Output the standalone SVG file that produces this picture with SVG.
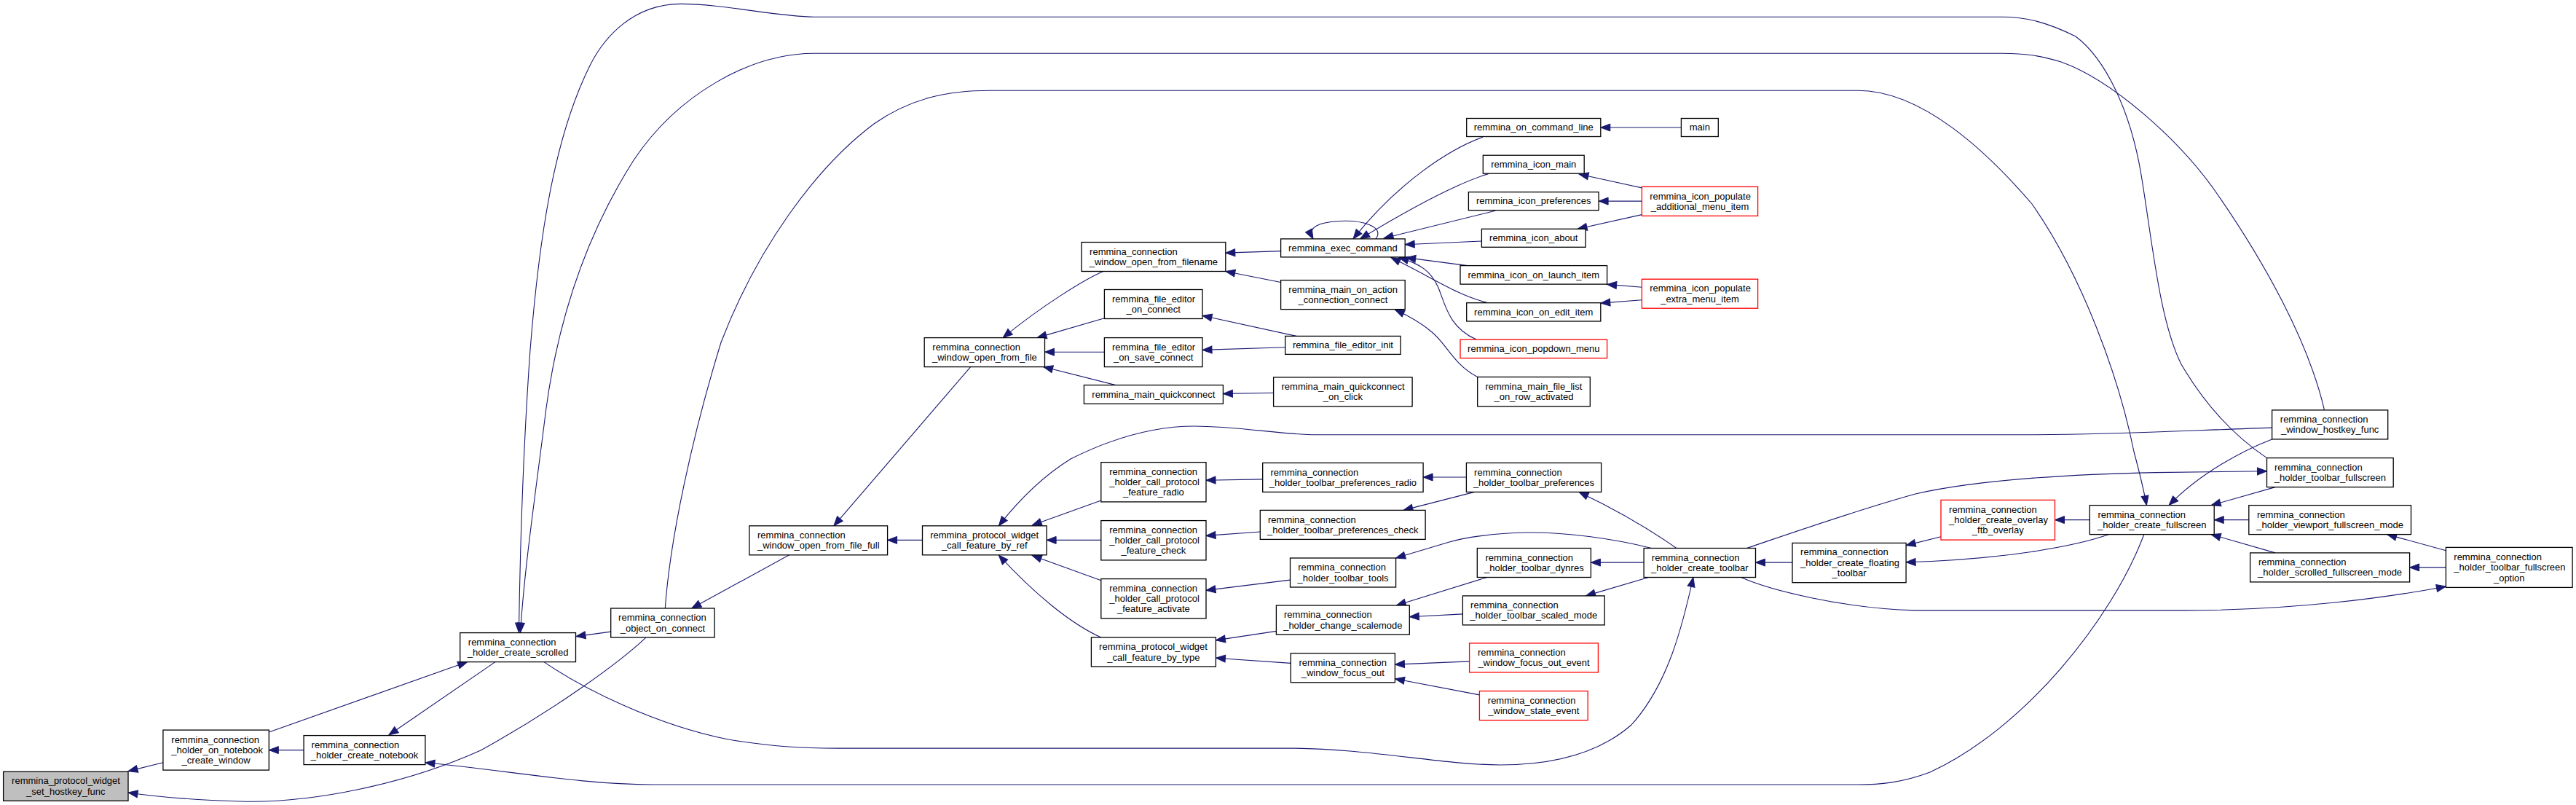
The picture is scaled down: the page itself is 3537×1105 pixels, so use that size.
<svg xmlns="http://www.w3.org/2000/svg" width="3537" height="1105" viewBox="0 0 3537 1105">
<style>
.node rect{fill:#ffffff;stroke:#000000;stroke-width:1.3}
.node.red rect{stroke:#ff0000}
.node.root rect{fill:#bfbfbf}
text{font-family:"Liberation Sans",Arial,Helvetica,sans-serif;font-size:13px;fill:#000000}
text.c{text-anchor:middle}
#edges path{fill:none;stroke:#191970;stroke-width:1.1;marker-end:url(#ah)}
</style>
<defs>
<marker id="ah" markerUnits="userSpaceOnUse" markerWidth="14" markerHeight="11" refX="13" refY="5" orient="auto" overflow="visible">
<path d="M0,0 L13,5 L0,10 z" fill="#191970" stroke="#191970" stroke-width="1"/>
</marker>
</defs>
<rect x="0" y="0" width="3537" height="1105" fill="#ffffff"/>
<g id="edges">
<path d="M223.9,1046.8 L176,1058.6"/>
<path d="M886.6,875.4 C850,910 760,975 660,1030 C560,1075 430,1103 330,1100 C260,1098 210,1093 176,1088"/>
<path d="M369.3,1004.9 L641.7,908.6"/>
<path d="M417.1,1029.6 L369.3,1029.6"/>
<path d="M680,908.6 L533.8,1009"/>
<path d="M2943.6,734.3 C2900,850 2780,1000 2650,1060 C2610,1075 2580,1077 2551,1077 L896,1077 C800,1077 700,1058 583.9,1046.8"/>
<path d="M3112.5,628.6 C3070,600 3030,560 2995,500 C2965,440 2955,330 2940,240 C2925,150 2890,80 2850,50 C2810,30 2780,23.2 2750,23.2 L1118,23.2 C1070,23.2 990,5 934,5.4 C870,6 830,50 810,90 C760,190 740,330 728,480 C718,620 714,760 712.4,868.2"/>
<path d="M3191.5,562.9 C3170,470 3110,360 3040,260 C2990,190 2900,110 2830,85 C2800,76 2780,73.2 2750,73.2 L1118,73.2 C1030,73.2 930,130 870,220 C800,330 765,450 750,560 C735,680 720,780 714.5,868.2"/>
<path d="M913.3,835 C920,740 950,600 990,470 C1040,340 1120,230 1200,170 C1250,135 1300,124.3 1360,124.3 L2551,124.3 C2640,124.3 2730,210 2790,280 C2860,380 2910,520 2930,620 C2938,650 2944,675 2947.4,693.6"/>
<path d="M838.7,867.1 L790.9,873.6"/>
<path d="M1083.6,761.8 L949.7,835"/>
<path d="M1333,503.2 L1144.9,721.8"/>
<path d="M1266.5,741.4 L1218.6,741.4"/>
<path d="M1514.8,372.5 C1490,383 1430,420 1377.1,463.6"/>
<path d="M1516.4,436.8 L1424,463.6"/>
<path d="M1516.4,483.2 L1434.5,483.2"/>
<path d="M1532,528.6 L1432.6,503.5"/>
<path d="M1758.6,344.6 L1682.8,347.1"/>
<path d="M1758.6,387.5 L1682.8,372.5"/>
<path d="M1780,461.4 L1651,433.2"/>
<path d="M1764.7,476.8 L1651,480.4"/>
<path d="M1748.6,539.3 L1679.4,540.4"/>
<path d="M1889,327.9 C1902,311 1870,302 1840,303.5 C1812,305 1794,311 1803,327.9"/>
<path d="M2036,188.2 C1990,205 1920,250 1858,327.9"/>
<path d="M2043.6,238.6 C2000,252 1930,290 1867.6,327.9"/>
<path d="M2053.2,289.3 L1900.1,327"/>
<path d="M2034.4,331 L1929.2,335.7"/>
<path d="M2014.9,364.6 L1930.7,353.6"/>
<path d="M2041.7,415.4 C2000,405 1965,380 1910,353.6"/>
<path d="M2027.1,466.1 C1990,450 1985,420 1975,395 C1965,372 1950,362 1921,353.6"/>
<path d="M2028.7,517.5 C1995,500 1985,470 1965,455 C1950,442 1935,434 1915.4,425"/>
<path d="M2308.4,175 L2197.8,175"/>
<path d="M2254.4,257.9 L2168,239"/>
<path d="M2254.4,276.1 L2195.1,276.1"/>
<path d="M2254.4,294.6 L2166.1,314.3"/>
<path d="M2254.4,394.3 L2206.6,390.4"/>
<path d="M2254.4,411.8 L2197.8,416.1"/>
<path d="M1511.8,687.1 L1417.2,721"/>
<path d="M1511.8,741.4 L1437.1,741.4"/>
<path d="M1511.8,796.8 L1417.2,762.5"/>
<path d="M1511.8,875 C1470,856 1420,815 1371.3,762"/>
<path d="M3119.6,587.1 C3000,591 2900,596.8 2781,596.8 L1808,596.8 C1760,596.8 1700,585 1640,585 C1580,585 1520,605 1470,630 C1430,655 1400,685 1371.3,721.8"/>
<path d="M1733.7,657.9 L1656,659.3"/>
<path d="M1730.3,730 L1656,735.4"/>
<path d="M1771.2,796.1 L1656,810.4"/>
<path d="M1752.4,866.4 L1669.4,878.9"/>
<path d="M1772.3,910.4 L1669.4,903.2"/>
<path d="M2013.4,655 L1954.1,655"/>
<path d="M2024.5,675.4 L1926.9,700.4"/>
<path d="M2301.9,752.5 C2270,730 2220,700 2168,675.4"/>
<path d="M2267.5,752.5 C2220,740 2150,730 2095,731 C2050,732 2010,738 1990,744 C1960,753 1940,759 1916.6,766"/>
<path d="M2257.1,772.1 L2184.4,772.1"/>
<path d="M2041.7,792.5 L1917.3,831"/>
<path d="M2008.4,842.9 L1935.3,846.8"/>
<path d="M2263.6,792.5 L2177.5,817.9"/>
<path d="M2017.6,907.9 L1915.4,912.1"/>
<path d="M2031.4,953.9 L1915.4,931.8"/>
<path d="M746.9,908.6 C800,945 900,995 1000,1015 C1060,1025 1100,1027.1 1150,1027.1 L1770,1027.1 C1880,1027.1 1980,1050 2060,1050 C2140,1050 2200,1030 2240,995 C2290,940 2310,860 2324.9,792.5"/>
<path d="M2461,772.1 L2410.5,772.1"/>
<path d="M2665,736.8 L2617.1,748.6"/>
<path d="M2895.7,733.6 C2850,750 2750,768 2617.1,771.8"/>
<path d="M2869.3,713.6 L2821.5,713.6"/>
<path d="M2398.3,752.5 C2450,735 2550,700 2630,678 C2700,662 2800,652 2960,648.6 L3112.5,646.8"/>
<path d="M2390.6,792.5 C2430,810 2530,835 2630,837.9 L3000,837.9 C3150,837.9 3280,820 3358.4,805"/>
<path d="M3119.6,602.9 C3080,618 3020,650 2978.1,693.6"/>
<path d="M3124.1,668.6 L3036.1,693.6"/>
<path d="M3087.8,713.6 L3040.2,713.6"/>
<path d="M3124.1,758.9 L3036.1,733.6"/>
<path d="M3358.4,755.7 L3277.6,733.6"/>
<path d="M3358.4,778.9 L3308.6,778.9"/>
</g>
<g id="n_set_hostkey_func" class="node root"><rect x="4.6" y="1059.3" width="171.4" height="40"/><text x="16.1" y="1076.4">remmina_protocol_widget</text><text class="c" x="90.3" y="1090.8">_set_hostkey_func</text></g>
<g id="n_on_notebook_create_window" class="node"><rect x="223.9" y="1002.1" width="145.4" height="55"/><text x="235.3" y="1019.5">remmina_connection</text><text x="235.3" y="1033.9">_holder_on_notebook</text><text class="c" x="296.6" y="1048.3">_create_window</text></g>
<g id="n_create_notebook" class="node"><rect x="417.1" y="1009.6" width="166.8" height="40"/><text x="427.6" y="1026.7">remmina_connection</text><text class="c" x="500.5" y="1041.1">_holder_create_notebook</text></g>
<g id="n_create_scrolled" class="node"><rect x="631.7" y="868.6" width="158.8" height="40"/><text x="642.8" y="885.7">remmina_connection</text><text class="c" x="711.1" y="900.1">_holder_create_scrolled</text></g>
<g id="n_object_on_connect" class="node"><rect x="838.7" y="835" width="142.4" height="40"/><text x="849.1" y="852.1">remmina_connection</text><text class="c" x="909.9" y="866.5">_object_on_connect</text></g>
<g id="n_open_from_file_full" class="node"><rect x="1028.9" y="721.8" width="189.7" height="40"/><text x="1040" y="738.9">remmina_connection</text><text class="c" x="1123.75" y="753.3">_window_open_from_file_full</text></g>
<g id="n_open_from_file" class="node"><rect x="1269.2" y="463.6" width="165.3" height="40"/><text x="1280.3" y="480.7">remmina_connection</text><text class="c" x="1351.85" y="495.1">_window_open_from_file</text></g>
<g id="n_open_from_filename" class="node"><rect x="1485" y="332.5" width="197.8" height="40"/><text x="1496.1" y="349.6">remmina_connection</text><text class="c" x="1583.9" y="364">_window_open_from_filename</text></g>
<g id="n_file_editor_on_connect" class="node"><rect x="1516.4" y="397.5" width="134.6" height="40"/><text x="1527" y="414.6">remmina_file_editor</text><text class="c" x="1583.7" y="429">_on_connect</text></g>
<g id="n_file_editor_on_save_connect" class="node"><rect x="1516.4" y="463.6" width="134.6" height="40"/><text x="1527" y="480.7">remmina_file_editor</text><text class="c" x="1583.7" y="495.1">_on_save_connect</text></g>
<g id="n_main_quickconnect" class="node"><rect x="1488.4" y="528.6" width="191" height="25.7"/><text class="c" x="1583.9" y="545.7">remmina_main_quickconnect</text></g>
<g id="n_exec_command" class="node"><rect x="1758.6" y="327.9" width="170.6" height="25"/><text class="c" x="1843.9" y="344.7">remmina_exec_command</text></g>
<g id="n_main_on_action_connection_connect" class="node"><rect x="1758.6" y="384.6" width="170.6" height="40"/><text x="1769.3" y="401.7">remmina_main_on_action</text><text class="c" x="1843.9" y="416.1">_connection_connect</text></g>
<g id="n_file_editor_init" class="node"><rect x="1764.7" y="461.4" width="158.4" height="25"/><text class="c" x="1843.9" y="478.2">remmina_file_editor_init</text></g>
<g id="n_main_quickconnect_on_click" class="node"><rect x="1748.6" y="517.9" width="190.5" height="40"/><text x="1759.5" y="535">remmina_main_quickconnect</text><text class="c" x="1843.85" y="549.4">_on_click</text></g>
<g id="n_on_command_line" class="node"><rect x="2013.7" y="162.5" width="184.1" height="25"/><text class="c" x="2105.75" y="179.3">remmina_on_command_line</text></g>
<g id="n_main" class="node"><rect x="2308.4" y="162.5" width="50.9" height="25"/><text class="c" x="2333.85" y="179.3">main</text></g>
<g id="n_icon_main" class="node"><rect x="2036.3" y="213.2" width="138.9" height="25"/><text class="c" x="2105.75" y="230">remmina_icon_main</text></g>
<g id="n_icon_preferences" class="node"><rect x="2016.4" y="263.6" width="178.7" height="25"/><text class="c" x="2105.75" y="280.4">remmina_icon_preferences</text></g>
<g id="n_icon_about" class="node"><rect x="2034.4" y="314.3" width="142.7" height="25"/><text class="c" x="2105.75" y="331.1">remmina_icon_about</text></g>
<g id="n_icon_on_launch_item" class="node"><rect x="2005" y="364.6" width="201.6" height="25.5"/><text class="c" x="2105.8" y="381.6">remmina_icon_on_launch_item</text></g>
<g id="n_icon_on_edit_item" class="node"><rect x="2013.7" y="415.7" width="184.1" height="25.3"/><text class="c" x="2105.75" y="432.6">remmina_icon_on_edit_item</text></g>
<g id="n_icon_popdown_menu" class="node red"><rect x="2005" y="466.1" width="201.6" height="25.5"/><text class="c" x="2105.8" y="483.1">remmina_icon_popdown_menu</text></g>
<g id="n_main_file_list_on_row_activated" class="node"><rect x="2028.7" y="517.5" width="154.6" height="40.3"/><text x="2039.4" y="534.7">remmina_main_file_list</text><text class="c" x="2106" y="549.1">_on_row_activated</text></g>
<g id="n_icon_populate_additional_menu_item" class="node red"><rect x="2254.4" y="256.4" width="159.2" height="40"/><text x="2265.2" y="273.5">remmina_icon_populate</text><text class="c" x="2334" y="287.9">_additional_menu_item</text></g>
<g id="n_icon_populate_extra_menu_item" class="node red"><rect x="2254.4" y="383.2" width="159.2" height="40"/><text x="2265.2" y="400.3">remmina_icon_populate</text><text class="c" x="2334" y="414.7">_extra_menu_item</text></g>
<g id="n_call_feature_by_ref" class="node"><rect x="1266.5" y="721.8" width="170.6" height="40"/><text x="1277.2" y="738.9">remmina_protocol_widget</text><text class="c" x="1351.8" y="753.3">_call_feature_by_ref</text></g>
<g id="n_call_protocol_feature_radio" class="node"><rect x="1511.8" y="634.6" width="144.2" height="54.3"/><text x="1523.2" y="651.6">remmina_connection</text><text x="1523.2" y="666">_holder_call_protocol</text><text class="c" x="1583.9" y="680.4">_feature_radio</text></g>
<g id="n_call_protocol_feature_check" class="node"><rect x="1511.8" y="714.6" width="144.2" height="54.3"/><text x="1523.2" y="731.6">remmina_connection</text><text x="1523.2" y="746">_holder_call_protocol</text><text class="c" x="1583.9" y="760.4">_feature_check</text></g>
<g id="n_call_protocol_feature_activate" class="node"><rect x="1511.8" y="794.6" width="144.2" height="54.3"/><text x="1523.2" y="811.6">remmina_connection</text><text x="1523.2" y="826">_holder_call_protocol</text><text class="c" x="1583.9" y="840.4">_feature_activate</text></g>
<g id="n_call_feature_by_type" class="node"><rect x="1498.4" y="875" width="171" height="40"/><text x="1509.1" y="892.1">remmina_protocol_widget</text><text class="c" x="1583.9" y="906.5">_call_feature_by_type</text></g>
<g id="n_toolbar_preferences_radio" class="node"><rect x="1733.7" y="635.4" width="220.4" height="40"/><text x="1744.5" y="652.5">remmina_connection</text><text class="c" x="1843.9" y="666.9">_holder_toolbar_preferences_radio</text></g>
<g id="n_toolbar_preferences_check" class="node"><rect x="1730.3" y="700.4" width="226.8" height="40"/><text x="1741" y="717.5">remmina_connection</text><text class="c" x="1843.7" y="731.9">_holder_toolbar_preferences_check</text></g>
<g id="n_toolbar_tools" class="node"><rect x="1771.5" y="766" width="145.1" height="40"/><text x="1782.2" y="783.1">remmina_connection</text><text class="c" x="1844.05" y="797.5">_holder_toolbar_tools</text></g>
<g id="n_change_scalemode" class="node"><rect x="1752.4" y="831" width="182.9" height="40"/><text x="1763" y="848.1">remmina_connection</text><text class="c" x="1843.85" y="862.5">_holder_change_scalemode</text></g>
<g id="n_window_focus_out" class="node"><rect x="1772.3" y="896.8" width="143.1" height="40"/><text x="1783.4" y="913.9">remmina_connection</text><text class="c" x="1843.85" y="928.3">_window_focus_out</text></g>
<g id="n_toolbar_preferences" class="node"><rect x="2013.4" y="635.4" width="185.2" height="40"/><text x="2024.1" y="652.5">remmina_connection</text><text class="c" x="2106" y="666.9">_holder_toolbar_preferences</text></g>
<g id="n_toolbar_dynres" class="node"><rect x="2028.3" y="752.5" width="156.1" height="40"/><text x="2039.4" y="769.6">remmina_connection</text><text class="c" x="2106.35" y="784">_holder_toolbar_dynres</text></g>
<g id="n_toolbar_scaled_mode" class="node"><rect x="2008.4" y="817.9" width="194.8" height="40"/><text x="2019.1" y="835">remmina_connection</text><text class="c" x="2105.8" y="849.4">_holder_toolbar_scaled_mode</text></g>
<g id="n_window_focus_out_event" class="node red"><rect x="2017.6" y="882.9" width="176.8" height="40"/><text x="2029" y="900">remmina_connection</text><text class="c" x="2106" y="914.4">_window_focus_out_event</text></g>
<g id="n_window_state_event" class="node red"><rect x="2031.4" y="948.6" width="148.8" height="40"/><text x="2042.8" y="965.7">remmina_connection</text><text class="c" x="2105.8" y="980.1">_window_state_event</text></g>
<g id="n_create_toolbar" class="node"><rect x="2257.1" y="752.5" width="153.4" height="40"/><text x="2267.8" y="769.6">remmina_connection</text><text class="c" x="2333.8" y="784">_holder_create_toolbar</text></g>
<g id="n_create_floating_toolbar" class="node"><rect x="2461" y="745.4" width="156.1" height="54.3"/><text x="2472.1" y="762.4">remmina_connection</text><text x="2472.1" y="776.8">_holder_create_floating</text><text class="c" x="2539.05" y="791.2">_toolbar</text></g>
<g id="n_create_overlay_ftb_overlay" class="node red"><rect x="2665" y="686.4" width="156.5" height="54.7"/><text x="2676.1" y="703.6">remmina_connection</text><text x="2676.1" y="718">_holder_create_overlay</text><text class="c" x="2743.25" y="732.4">_ftb_overlay</text></g>
<g id="n_create_fullscreen" class="node"><rect x="2869.3" y="693.6" width="170.9" height="40"/><text x="2880.4" y="710.7">remmina_connection</text><text class="c" x="2954.75" y="725.1">_holder_create_fullscreen</text></g>
<g id="n_window_hostkey_func" class="node"><rect x="3119.6" y="562.9" width="159.1" height="40"/><text x="3130.8" y="580">remmina_connection</text><text class="c" x="3199.15" y="594.4">_window_hostkey_func</text></g>
<g id="n_toolbar_fullscreen" class="node"><rect x="3112.5" y="628.6" width="173.7" height="40"/><text x="3123" y="645.7">remmina_connection</text><text class="c" x="3199.35" y="660.1">_holder_toolbar_fullscreen</text></g>
<g id="n_viewport_fullscreen_mode" class="node"><rect x="3087.8" y="693.6" width="222.7" height="40"/><text x="3099" y="710.7">remmina_connection</text><text class="c" x="3199.15" y="725.1">_holder_viewport_fullscreen_mode</text></g>
<g id="n_scrolled_fullscreen_mode" class="node"><rect x="3089.6" y="758.9" width="219" height="40"/><text x="3100.9" y="776">remmina_connection</text><text class="c" x="3199.1" y="790.4">_holder_scrolled_fullscreen_mode</text></g>
<g id="n_toolbar_fullscreen_option" class="node"><rect x="3358.4" y="751.4" width="173.7" height="55"/><text x="3369.3" y="768.8">remmina_connection</text><text x="3369.3" y="783.2">_holder_toolbar_fullscreen</text><text class="c" x="3445.25" y="797.6">_option</text></g>
</svg>
